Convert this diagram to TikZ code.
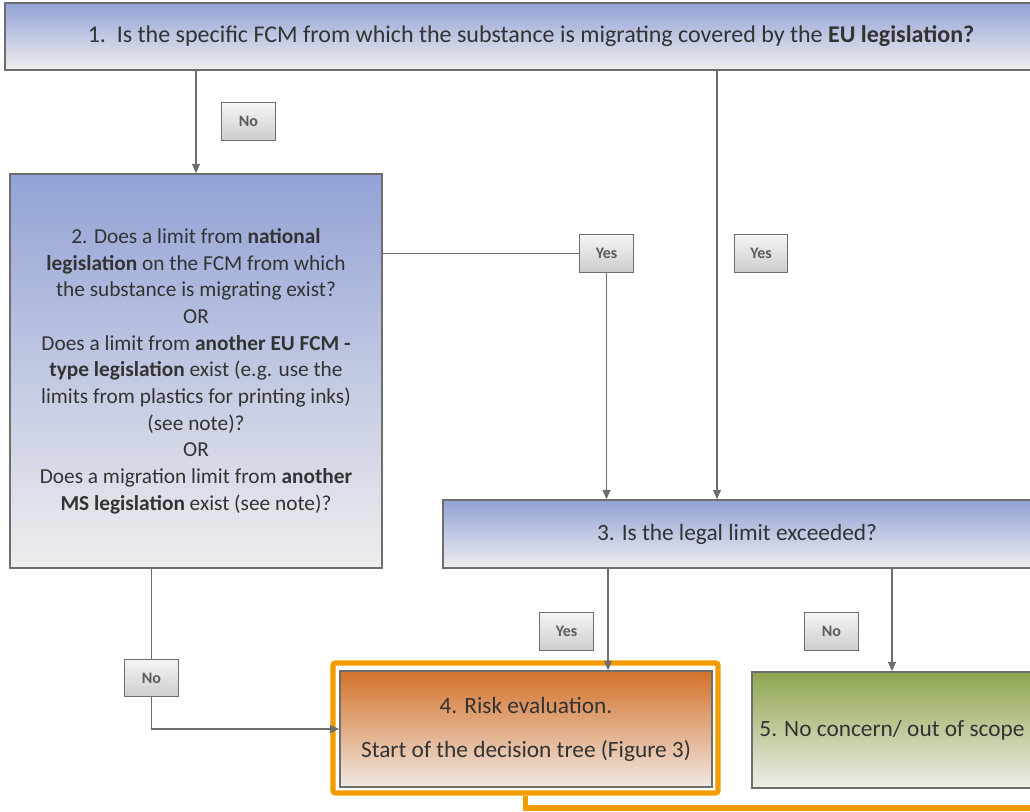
\documentclass[tikz,border=0pt]{standalone}
\usepackage{fontspec}
\setmainfont{Carlito}
\usetikzlibrary{arrows.meta}
\usepackage{xcolor}
\definecolor{qblue}{HTML}{93A2D6}
\definecolor{qgray}{HTML}{EEEEEE}
\definecolor{riskorange}{HTML}{D4722A}
\definecolor{riskpale}{HTML}{F0E8E3}
\definecolor{okgreen}{HTML}{8FA64E}
\definecolor{okpale}{HTML}{EEEEE9}
\definecolor{tagtop}{HTML}{F5F5F5}
\definecolor{tagbot}{HTML}{CDCDCD}
\definecolor{edgegray}{HTML}{6E6E6E}
\definecolor{inkgray}{HTML}{333333}
\definecolor{hiorange}{HTML}{F39C00}

\tikzset{
	qbox/.style={draw=edgegray, line width=1.2pt, top color=qblue, bottom color=qgray, text=inkgray, align=center, inner sep=0pt, font=\fontsize{17.5}{22}\selectfont},
	endbox/.style={draw=edgegray, line width=1.2pt, text=inkgray, align=center, inner sep=0pt, font=\fontsize{17.5}{22}\selectfont},
	tag/.style={draw=edgegray, line width=0.9pt, top color=tagtop, bottom color=tagbot, text=inkgray!80, font=\fontsize{12}{14}\selectfont\bfseries, minimum width=40pt, minimum height=28pt, inner sep=0pt},
	link/.style={draw=edgegray, line width=1pt},
	flow/.style={link, -{Triangle[length=7pt,width=6pt]}},
	highlight/.style={draw=hiorange, line width=4pt, rounded corners=2pt}
}

\begin{document}
\begin{tikzpicture}[x=0.75pt,y=-0.75pt]
		\useasboundingbox (0,0) rectangle (1030,811);
		\clip (0,0) rectangle (1030,811);
		%
		\node[qbox, font=\fontsize{18}{22}\selectfont, minimum width=1052*0.75pt, minimum height=67*0.75pt] (q1) at (531,36.5) {1.\ \ Is the specific FCM from which the substance is migrating covered by the \textbf{EU legislation?}};
		\node[qbox, font=\fontsize{16}{20}\selectfont, minimum width=372*0.75pt, minimum height=394*0.75pt] (q2) at (196,371) {2. Does a limit from \textbf{national}\\\textbf{legislation} on the FCM from which\\the substance is migrating exist?\\OR\\Does a limit from \textbf{another EU FCM -}\\\textbf{type legislation} exist (e.g. use the\\limits from plastics for printing inks)\\(see note)?\\OR\\Does a migration limit from \textbf{another}\\\textbf{MS legislation} exist (see note)?};
		\node[qbox, minimum width=588*0.75pt, minimum height=68*0.75pt] (q3) at (737,534) {3. Is the legal limit exceeded?};
		%
		\node[highlight, minimum width=385*0.75pt, minimum height=130*0.75pt] (frame) at (525.5,728) {};
		\node[endbox, top color=riskorange, bottom color=riskpale, minimum width=372*0.75pt, minimum height=116*0.75pt] (q4) at (526,729) {4. Risk evaluation.\\[11pt]Start of the decision tree (Figure 3)};
		\node[endbox, top color=okgreen, bottom color=okpale, minimum width=280*0.75pt, minimum height=116*0.75pt] (q5) at (892,730) {5. No concern/ out of scope};
		%
		\node[tag] (no1) at (248.5,121.5) {No};
		\node[tag] (yes1) at (606.5,253.5) {Yes};
		\node[tag] (yes2) at (761,253.5) {Yes};
		\node[tag] (yes3) at (566.5,631.5) {Yes};
		\node[tag] (no2) at (831.5,631.5) {No};
		\node[tag] (no3) at (151.5,678) {No};
		%
		\coordinate (eucol) at (717,0);
		\coordinate (riskcol) at (608,0);
		\coordinate (exit) at (1040,808);
		%
		\draw[flow] (q1.south -| q2.north) -- (q2.north);
		\draw[link] (yes1.west -| q2.east) -- (yes1.west);
		\draw[flow] (yes1.south) -- (yes1.south |- q3.north);
		\draw[flow] (q1.south -| eucol) -- (q3.north -| eucol);
		\draw[flow] (q3.south -| riskcol) -- (q4.north -| riskcol);
		\draw[flow] (q3.south -| q5.north) -- (q5.north);
		\draw[link] (q2.south -| no3.north) -- (no3.north);
		\draw[flow] (no3.south) |- (q4.west);
		%
		\draw[highlight, rounded corners=0pt] (frame.south) |- (exit);
	\end{tikzpicture}
\end{document}
